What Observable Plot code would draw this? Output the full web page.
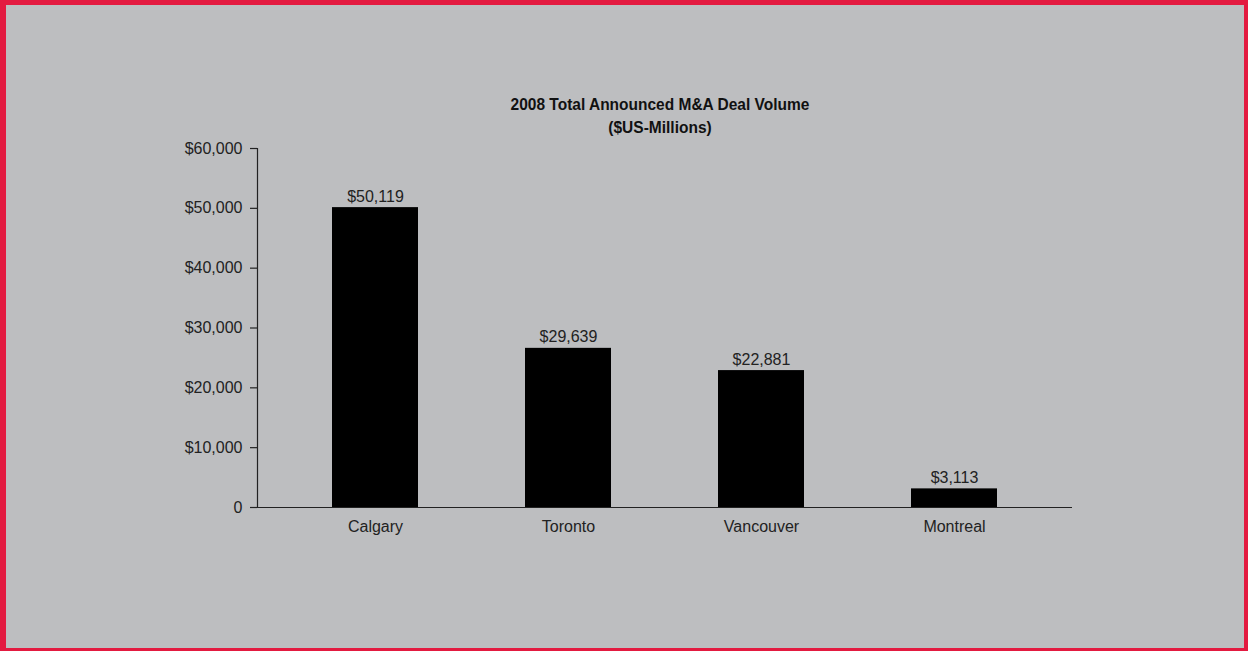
<!DOCTYPE html>
<html>
<head>
<meta charset="utf-8">
<script src="https://cdn.jsdelivr.net/npm/d3@7"></script>
<script src="https://cdn.jsdelivr.net/npm/@observablehq/plot@0.6"></script>
<style>
  html, body { margin: 0; padding: 0; width: 1248px; height: 651px; overflow: hidden; background: #bdbec0; }
  #chart { position: absolute; left: 0; top: 0; }
  #frame { position: absolute; left: 0; top: 0; width: 1248px; height: 651px; box-sizing: border-box;
           border-style: solid; border-color: #e31a40; border-width: 5px 4px 3px 6px; pointer-events: none; }
  #title { position: absolute; left: 360px; width: 600px; top: 94px; text-align: center;
           font-family: "Liberation Sans", Arial, sans-serif; font-weight: bold;
           font-size: 15.5px; line-height: 22px; color: #111; transform: scaleY(1.05); }
</style>
</head>
<body>
<div id="chart"></div>
<div id="title">2008 Total Announced M&amp;A Deal Volume<br>($US-Millions)</div>
<div id="frame"></div>
<script>
const cities = ["Calgary", "Toronto", "Vancouver", "Montreal"];
const barValues = [50119, 26600, 22881, 3113];
const valueLabels = ["$50,119", "$29,639", "$22,881", "$3,113"];
const yTicks = [0, 10000, 20000, 30000, 40000, 50000, 60000];
const yTickLabels = ["0", "$10,000", "$20,000", "$30,000", "$40,000", "$50,000", "$60,000"];

const data = cities.map((c, i) => ({city: c, value: barValues[i], label: valueLabels[i]}));

const chart = Plot.plot({
  width: 1248,
  height: 651,
  marginLeft: 257,
  marginRight: 176,
  marginTop: 148,
  marginBottom: 144,
  style: {background: "transparent", fontFamily: "'Liberation Sans', Arial, sans-serif", fontSize: "16px", color: "#222"},
  x: {domain: cities, paddingInner: 0.556, paddingOuter: 0.382, label: null},
  y: {domain: [0, 60000], label: null},
  marks: [
    Plot.barY(data, {x: "city", y: "value", fill: "#000"}),
    Plot.text(data, {x: "city", y: "value", text: "label", dy: -6, lineAnchor: "bottom", fill: "#222", fontSize: 16}),
    Plot.axisY({ticks: yTicks, tickFormat: (d) => yTickLabels[yTicks.indexOf(d)], tickSize: 7, tickPadding: 8, stroke: "#222", fill: "#222", label: null, strokeWidth: 1.2}),
    Plot.axisX({tickSize: 0, tickPadding: 13, fill: "#222", label: null}),
    Plot.frame({anchor: "left", stroke: "#222", strokeWidth: 1.2}),
    Plot.ruleY([0], {stroke: "#222", strokeWidth: 1.2})
  ]
});
document.getElementById("chart").appendChild(chart);
</script>
</body>
</html>
